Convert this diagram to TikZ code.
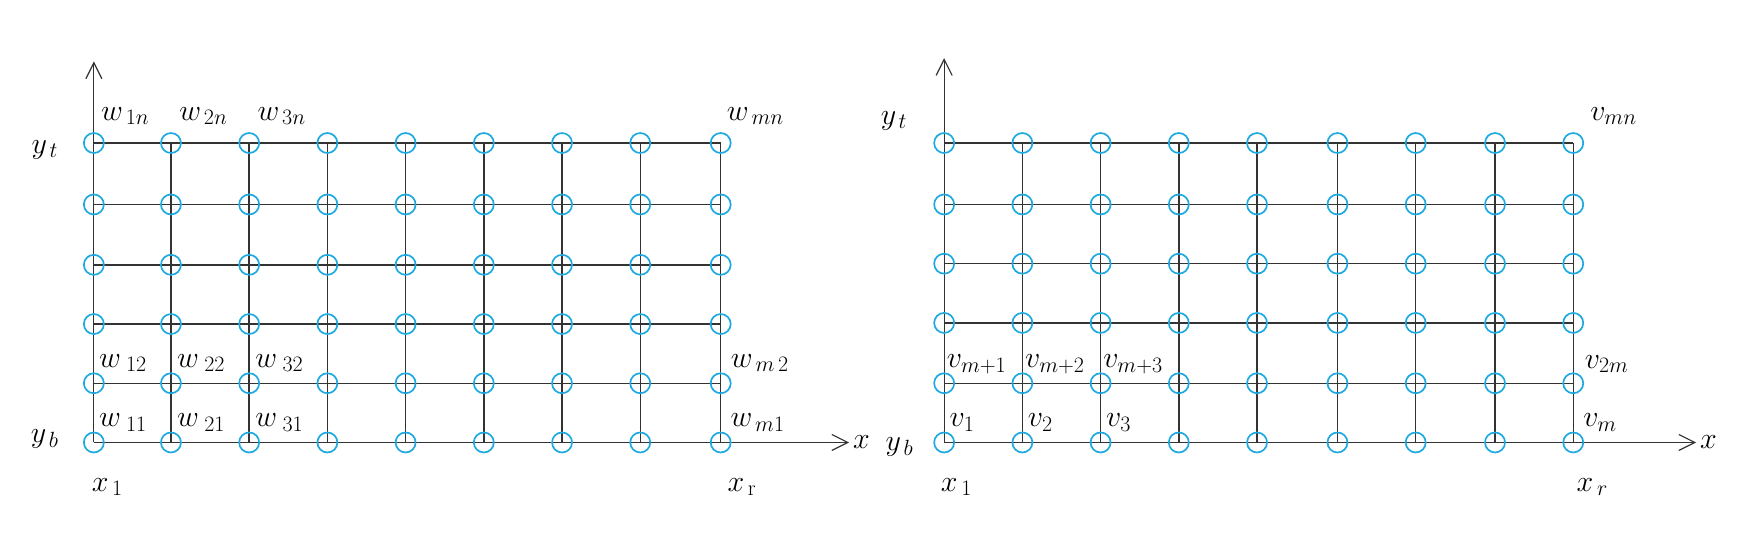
\RequirePackage{fix-cm}
\documentclass[tikz,border=0pt]{standalone}
\usetikzlibrary{arrows.meta}
\DeclareMathSizes{30}{30}{22}{16}
\definecolor{cblue}{RGB}{30,170,225}
\begin{document}
\begin{tikzpicture}[x=1.1173pt,y=-1.1173pt,
  gpt/.style={circle,draw=cblue,line width=1.7pt,minimum size=20pt,inner sep=0pt},
  grid/.style={line width=1.4pt,draw=black!80},
  ax/.style={line width=1.2pt,draw=black!80,-{Straight Barb[length=16pt,width=16pt,line width=1.2pt]}},
  lab/.style={font=\fontsize{30}{36}\selectfont,inner sep=0pt}]
\useasboundingbox (0,0) rectangle (1568,480);
\foreach \i/\xx in {1/84,2/153,3/223,4/293,5/363,6/433,7/503,8/573,9/645}{
  \foreach \j/\yy in {1/396,2/343,3/290,4/237,5/183,6/128}{
    \coordinate (L\i-\j) at (\xx,\yy);}}
\foreach \i/\xx in {1/845,2/915,3/985,4/1055,5/1125,6/1197,7/1267,8/1338,9/1408}{
  \foreach \j/\yy in {1/396,2/343,3/289,4/236,5/183,6/128}{
    \coordinate (R\i-\j) at (\xx,\yy);}}
\coordinate (Ltop) at (84,55); \coordinate (Lright) at (760,396);
\coordinate (Rtop) at (845,52); \coordinate (Rright) at (1518,396);
\draw[ax] (L1-1) -- (Ltop);
\draw[ax] (L1-1) -- (Lright);
\draw[ax] (R1-1) -- (Rtop);
\draw[ax] (R1-1) -- (Rright);
\foreach \s in {L,R}{
  \foreach \j in {2,...,6}{\draw[grid] (\s1-\j) -- (\s9-\j);}
  \foreach \i in {2,...,9}{\draw[grid] (\s\i-1) -- (\s\i-6);}
  \foreach \i in {1,...,9}{\foreach \j in {1,...,6}{\node[gpt] (n\s\i-\j) at (\s\i-\j) {};}}
}
% Left labels
\node[lab] (wa) at (112,104) {$w_{\,1n}$};
\node[lab] (wb) at (182,104) {$w_{\,2n}$};
\node[lab] (wc) at (252,104) {$w_{\,3n}$};
\node[lab] (wd) at (676,104) {$w_{\,mn}$};
\node[lab] (we) at (110,325) {$w_{\;12}$};
\node[lab] (wf) at (180,325) {$w_{\;22}$};
\node[lab] (wg) at (250,325) {$w_{\;32}$};
\node[lab] (wh) at (680,325) {$w_{\,m\,2}$};
\node[lab] (wi) at (110,378) {$w_{\;11}$};
\node[lab] (wj) at (180,378) {$w_{\;21}$};
\node[lab] (wk) at (250,378) {$w_{\;31}$};
\node[lab] (wl) at (678,378) {$w_{\,m1}$};
\node[lab] (lyt) at (40,134) {$y_{\,t}$};
\node[lab] (lyb) at (40,393) {$y_{\,b}$};
\node[lab] (lx1) at (96,436) {$x_{\,1}$};
\node[lab] (lxr) at (664,436) {$x_{\,\mathrm{r}}$};
\node[lab] (lx) at (771,396) {$x$};
% Right labels
\node[lab] (va) at (1444,104) {$v_{mn}$};
\node[lab] (vb) at (874,326) {$v_{m+1}$};
\node[lab] (vc) at (944,326) {$v_{m+2}$};
\node[lab] (vd) at (1014,326) {$v_{m+3}$};
\node[lab] (ve) at (1438,326) {$v_{2m}$};
\node[lab] (vf) at (861,378) {$v_{1}$};
\node[lab] (vg) at (931,378) {$v_{2}$};
\node[lab] (vh) at (1001,378) {$v_{3}$};
\node[lab] (vi) at (1432,378) {$v_{m}$};
\node[lab] (ryt) at (800,108) {$y_{\,t}$};
\node[lab] (ryb) at (805,400) {$y_{\,b}$};
\node[lab] (rx1) at (856,436) {$x_{\,1}$};
\node[lab] (rxr) at (1425,436) {$x_{\,r}$};
\node[lab] (rx) at (1529,396) {$x$};
\end{tikzpicture}
\end{document}
